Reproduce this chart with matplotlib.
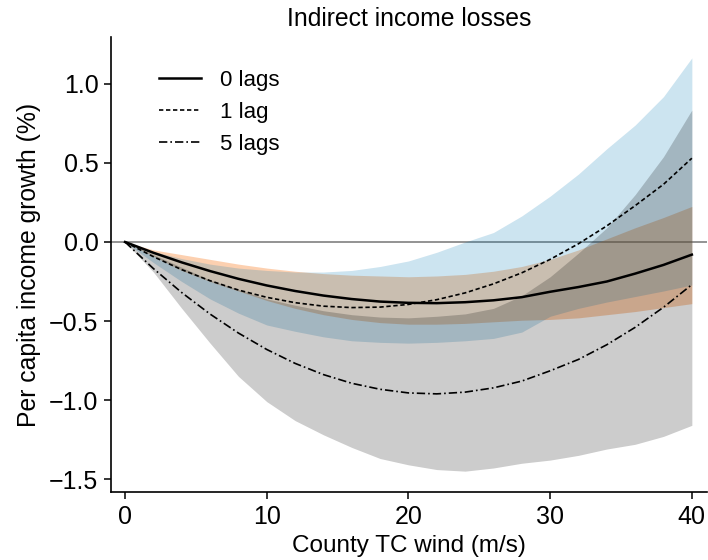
import matplotlib
matplotlib.use("Agg")
import matplotlib.pyplot as plt

# values (wind in m/s, effect in %)
wind = [0, 2, 4, 6, 8, 10, 12, 14, 16, 18, 20, 22, 24, 26, 28, 30, 32, 34, 36, 38, 40]

lag0 = [0, -0.068, -0.129, -0.184, -0.233, -0.275, -0.31, -0.339, -0.361, -0.377, -0.385,
        -0.387, -0.381, -0.369, -0.349, -0.315, -0.285, -0.25, -0.2, -0.145, -0.08]
lag0_hi = [0, -0.05, -0.08, -0.11, -0.14, -0.165, -0.185, -0.2, -0.21, -0.215, -0.22,
           -0.215, -0.205, -0.185, -0.155, -0.11, -0.05, 0.02, 0.09, 0.155, 0.225]
lag0_lo = [0, -0.09, -0.18, -0.25, -0.31, -0.37, -0.42, -0.46, -0.49, -0.51, -0.52,
           -0.52, -0.515, -0.505, -0.495, -0.49, -0.48, -0.46, -0.44, -0.415, -0.39]

lag1 = [0, -0.093, -0.175, -0.245, -0.304, -0.35, -0.384, -0.406, -0.415, -0.412, -0.395,
        -0.365, -0.322, -0.265, -0.195, -0.11, -0.011, 0.102, 0.23, 0.365, 0.53]
lag1_hi = [0, -0.06, -0.105, -0.14, -0.165, -0.18, -0.19, -0.19, -0.18, -0.155, -0.12,
           -0.065, 0.0, 0.06, 0.165, 0.29, 0.43, 0.59, 0.74, 0.92, 1.165]
lag1_lo = [0, -0.13, -0.25, -0.36, -0.45, -0.525, -0.565, -0.6, -0.625, -0.635, -0.64,
           -0.635, -0.625, -0.61, -0.57, -0.47, -0.42, -0.38, -0.345, -0.31, -0.272]

lag5 = [0, -0.168, -0.32, -0.456, -0.576, -0.68, -0.768, -0.839, -0.894, -0.932, -0.955,
        -0.961, -0.95, -0.923, -0.88, -0.815, -0.743, -0.65, -0.54, -0.413, -0.27]
lag5_hi = [0, -0.08, -0.16, -0.24, -0.3, -0.36, -0.4, -0.435, -0.46, -0.475, -0.48,
           -0.47, -0.455, -0.42, -0.34, -0.22, -0.07, 0.09, 0.3, 0.54, 0.835]
lag5_lo = [0, -0.19, -0.42, -0.64, -0.85, -1.01, -1.13, -1.22, -1.3, -1.37, -1.41,
           -1.44, -1.45, -1.43, -1.4, -1.38, -1.35, -1.31, -1.28, -1.23, -1.16]

yticks = [-1.5, -1.0, -0.5, 0.0, 0.5, 1.0]
xticks = [0, 10, 20, 30, 40]

plt.rcParams['font.family'] = ['Liberation Sans', 'DejaVu Sans']

fig = plt.figure(figsize=(7.08, 5.6), dpi=100)
ax = fig.add_axes([0.1568, 0.1214, 0.8418, 0.8125])

ax.axhline(0, color='#8a8a8a', lw=1.3, zorder=1)

# confidence bands
ax.fill_between(wind, lag0_lo, lag0_hi, color=(249/255, 121/255, 29/255), alpha=0.35, lw=0, zorder=2)
ax.fill_between(wind, lag1_lo, lag1_hi, color=(0, 120/255, 180/255), alpha=0.2, lw=0, zorder=3)
ax.fill_between(wind, lag5_lo, lag5_hi, color='black', alpha=0.2, lw=0, zorder=4)

# point estimates
ax.plot(wind, lag0, color='black', lw=1.8, label='0 lags', zorder=5)
ax.plot(wind, lag1, color='black', lw=1.2, dashes=(2.6, 1.6), label='1 lag', zorder=5)
ax.plot(wind, lag5, color='black', lw=1.2, dashes=(5, 1.8, 1, 1.8), label='5 lags', zorder=5)

ax.set_xlim(-0.99, 41.07)
ax.set_ylim(-1.582, 1.297)
ax.set_xticks(xticks)
ax.set_yticks(yticks)
ax.tick_params(labelsize=18, length=5, width=1.1, pad=4)

for side in ['top', 'right']:
    ax.spines[side].set_visible(False)
for side in ['left', 'bottom']:
    ax.spines[side].set_linewidth(1.2)

ax.set_title("Indirect income losses", fontsize=17.8, pad=8)
ax.set_xlabel("County TC wind (m/s)", fontsize=17.5, labelpad=4.5)
ax.set_ylabel("Per capita income growth (%)", fontsize=17.8, labelpad=6)

ax.legend(loc='upper left', bbox_to_anchor=(159/708, 1 - 70/560), bbox_transform=fig.transFigure,
          frameon=False, fontsize=16, handlelength=1.9, handletextpad=0.85,
          labelspacing=0.5, borderpad=0, borderaxespad=0)

fig.savefig("out.png", dpi=100)
